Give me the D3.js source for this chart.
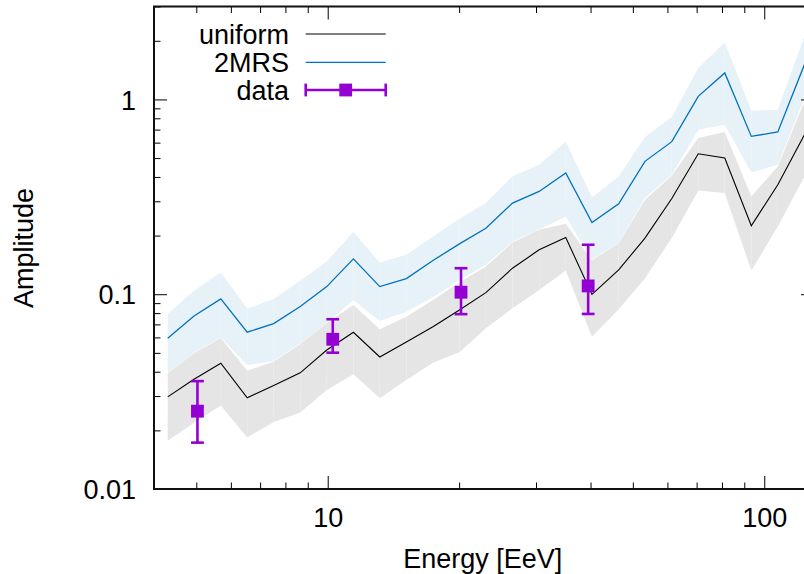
<!DOCTYPE html>
<html>
<head>
<meta charset="utf-8">
<script src="https://cdn.jsdelivr.net/npm/d3@7"></script>
<style>
    html, body { margin: 0; padding: 0; background: #fff; }
    svg { display: block; font-family: "Liberation Sans", Arial, sans-serif; }
</style>
</head>
<body>
<svg id="chart" width="804" height="574"></svg>
<script>
// energies of the model curves [EeV]
const energy = [4.30, 4.94, 5.69, 6.54, 7.52, 8.65, 9.95, 11.45, 13.16, 15.14, 17.42, 20.03,
    23.03, 26.5, 30.5, 35.1, 40.3, 46.4, 53.3, 61.4, 70.6, 81.2, 93.4, 107.4, 123.6];

const uniform = [0.0297, 0.0366, 0.0442, 0.0294, 0.0340, 0.0395, 0.0517, 0.0638, 0.0476, 0.0569,
    0.0681, 0.0830, 0.1019, 0.1360, 0.1690, 0.1954, 0.0998, 0.1333, 0.1941, 0.310, 0.526, 0.500,
    0.2245, 0.365, 0.659];
const uniformLow = [0.0177, 0.0219, 0.0268, 0.0184, 0.0221, 0.0247, 0.0322, 0.0388, 0.0292, 0.0363,
    0.0445, 0.0503, 0.0669, 0.0847, 0.1052, 0.1322, 0.0605, 0.0838, 0.1209, 0.1941, 0.341, 0.331,
    0.1322, 0.2227, 0.402];
const uniformHigh = [0.0393, 0.0497, 0.0596, 0.0405, 0.0450, 0.0555, 0.0709, 0.0881, 0.0661, 0.0767,
    0.0935, 0.1147, 0.1387, 0.1842, 0.2141, 0.2298, 0.1489, 0.1829, 0.3053, 0.4057, 0.634, 0.681,
    0.3176, 0.453, 0.978];

const mrs = [0.0594, 0.0773, 0.0946, 0.0638, 0.0706, 0.0864, 0.1094, 0.1519, 0.1094, 0.1203,
    0.1489, 0.1814, 0.2179, 0.2938, 0.337, 0.419, 0.2334, 0.2913, 0.481, 0.607, 1.037, 1.368,
    0.646, 0.681, 1.51];
const mrsLow = [0.0395, 0.0500, 0.0601, 0.0433, 0.0454, 0.0560, 0.0712, 0.0935, 0.0729, 0.0814,
    0.0965, 0.1184, 0.1415, 0.1864, 0.2150, 0.2506, 0.1501, 0.1840, 0.3116, 0.410, 0.699, 0.742,
    0.422, 0.462, 1.018];
const mrsHigh = [0.0792, 0.1043, 0.1291, 0.0843, 0.0946, 0.1171, 0.1471, 0.2084, 0.1454, 0.1593,
    0.1978, 0.2438, 0.2938, 0.402, 0.462, 0.609, 0.314, 0.402, 0.641, 0.813, 1.452, 1.966,
    0.876, 0.886, 2.11];

// measured amplitudes
const dataEnergy = [5.03, 10.27, 20.2, 39.5];
const dataAmp = [0.0251, 0.0587, 0.1024, 0.1103];
const dataLow = [0.0173, 0.0501, 0.0790, 0.0792];
const dataHigh = [0.0358, 0.0744, 0.136, 0.1793];

const xMajor = [10, 100];
const yMajor = [0.01, 0.1, 1];
const yLabels = ['0.01', '0.1', '1'];

const plotLeft = 154, plotRight = 814, plotTop = 6.5, plotBottom = 489;
const fontSize = 27;

const svg = d3.select('#chart');

const x = d3.scaleLog().domain([4, 130]).range([plotLeft, plotRight]);
const y = d3.scaleLog().domain([0.01, 3]).range([plotBottom, plotTop]);

svg.append('defs').append('clipPath').attr('id', 'plot-clip')
    .append('rect')
    .attr('x', plotLeft).attr('y', plotTop)
    .attr('width', plotRight - plotLeft).attr('height', plotBottom - plotTop);

const plot = svg.append('g').attr('clip-path', 'url(#plot-clip)');

// bands are drawn segment by segment, like the original polygons
function drawBand(lo, hi, fill) {
    const area = d3.area()
        .x(i => x(energy[i]))
        .y0(i => y(lo[i]))
        .y1(i => y(hi[i]));
    const segs = d3.range(energy.length - 1).map(i => [i, i + 1]);
    plot.append('g')
        .selectAll('path')
        .data(segs)
        .join('path')
        .attr('d', area)
        .attr('fill', fill);
}

drawBand(uniformLow, uniformHigh, '#e5e5e5');
drawBand(mrsLow, mrsHigh, '#e6f1f8');

const line = values => d3.line()
    .x((d, i) => x(energy[i]))
    .y(d => y(d))(values);

plot.append('path')
    .attr('d', line(uniform))
    .attr('fill', 'none')
    .attr('stroke', '#000')
    .attr('stroke-width', 1.1);

plot.append('path')
    .attr('d', line(mrs))
    .attr('fill', 'none')
    .attr('stroke', '#0072bd')
    .attr('stroke-width', 1.3);

// data points with error bars
const purple = '#9400d3';
const cap = 6.4;
const pts = plot.append('g')
    .selectAll('g')
    .data(d3.range(dataEnergy.length))
    .join('g')
    .attr('stroke', purple)
    .attr('stroke-width', 2.6);

pts.append('line')
    .attr('x1', i => x(dataEnergy[i])).attr('x2', i => x(dataEnergy[i]))
    .attr('y1', i => y(dataLow[i])).attr('y2', i => y(dataHigh[i]));
pts.append('line')
    .attr('x1', i => x(dataEnergy[i]) - cap).attr('x2', i => x(dataEnergy[i]) + cap)
    .attr('y1', i => y(dataLow[i])).attr('y2', i => y(dataLow[i]));
pts.append('line')
    .attr('x1', i => x(dataEnergy[i]) - cap).attr('x2', i => x(dataEnergy[i]) + cap)
    .attr('y1', i => y(dataHigh[i])).attr('y2', i => y(dataHigh[i]));
pts.append('rect')
    .attr('x', i => x(dataEnergy[i]) - cap).attr('y', i => y(dataAmp[i]) - cap)
    .attr('width', 2 * cap).attr('height', 2 * cap)
    .attr('fill', purple).attr('stroke', 'none');

// axes: ticks point inward, mirrored on top and right
const xMinor = x.ticks().filter(v => !xMajor.includes(v));
const yMinor = y.ticks().filter(v => !yMajor.some(m => Math.abs(m - v) < 1e-9));

function styleAxis(g) {
    g.select('.domain').remove();
    g.selectAll('.tick line').attr('stroke', '#000').attr('stroke-width', 1);
    g.selectAll('text')
        .attr('fill', '#000')
        .attr('font-size', fontSize)
        .attr('font-family', '"Liberation Sans", Arial, sans-serif');
}

svg.append('g').attr('transform', `translate(0,${plotBottom})`)
    .call(d3.axisBottom(x).tickValues(xMajor).tickSize(-13).tickPadding(19).tickFormat(d3.format('d')))
    .call(styleAxis);
svg.append('g').attr('transform', `translate(0,${plotBottom})`)
    .call(d3.axisBottom(x).tickValues(xMinor).tickSize(-6.5).tickFormat(''))
    .call(styleAxis);
svg.append('g').attr('transform', `translate(0,${plotTop})`)
    .call(d3.axisTop(x).tickValues(xMajor).tickSize(-13).tickFormat(''))
    .call(styleAxis);
svg.append('g').attr('transform', `translate(0,${plotTop})`)
    .call(d3.axisTop(x).tickValues(xMinor).tickSize(-6.5).tickFormat(''))
    .call(styleAxis);

svg.append('g').attr('transform', `translate(${plotLeft},0)`)
    .call(d3.axisLeft(y).tickValues(yMajor).tickSize(-13).tickPadding(18)
        .tickFormat((d, i) => yLabels[i]))
    .call(styleAxis)
    .call(g => g.selectAll('text').attr('dy', '0.36em'));
svg.append('g').attr('transform', `translate(${plotLeft},0)`)
    .call(d3.axisLeft(y).tickValues(yMinor).tickSize(-6.5).tickFormat(''))
    .call(styleAxis);
svg.append('g').attr('transform', `translate(${plotRight},0)`)
    .call(d3.axisRight(y).tickValues(yMajor).tickSize(-13).tickFormat(''))
    .call(styleAxis);
svg.append('g').attr('transform', `translate(${plotRight},0)`)
    .call(d3.axisRight(y).tickValues(yMinor).tickSize(-6.5).tickFormat(''))
    .call(styleAxis);

svg.append('rect')
    .attr('x', plotLeft).attr('y', plotTop)
    .attr('width', plotRight - plotLeft).attr('height', plotBottom - plotTop)
    .attr('fill', 'none')
    .attr('stroke', '#111')
    .attr('stroke-width', 2);

// axis titles
svg.append('text')
    .attr('x', 482.7).attr('y', 568)
    .attr('text-anchor', 'middle')
    .attr('font-size', fontSize)
    .text('Energy [EeV]');

svg.append('text')
    .attr('transform', 'translate(33,248) rotate(-90)')
    .attr('text-anchor', 'middle')
    .attr('font-size', fontSize)
    .text('Amplitude');

// legend
const legend = svg.append('g');
const keyX0 = 305.7, keyX1 = 385.7, textX = 289;
const entries = [
    { name: 'uniform', y: 34, color: '#000', width: 1.1 },
    { name: '2MRS', y: 62.3, color: '#0072bd', width: 1.3 },
    { name: 'data', y: 90, color: purple, width: 2.6 }
];

entries.forEach(e => {
    legend.append('text')
        .attr('x', textX).attr('y', e.y + 9.7)
        .attr('text-anchor', 'end')
        .attr('font-size', fontSize)
        .text(e.name);
    legend.append('line')
        .attr('x1', keyX0).attr('x2', keyX1)
        .attr('y1', e.y).attr('y2', e.y)
        .attr('stroke', e.color).attr('stroke-width', e.width);
});

const dataKey = entries[2];
[keyX0, keyX1].forEach(cx => {
    legend.append('line')
        .attr('x1', cx).attr('x2', cx)
        .attr('y1', dataKey.y - cap).attr('y2', dataKey.y + cap)
        .attr('stroke', purple).attr('stroke-width', 2.6);
});
legend.append('rect')
    .attr('x', (keyX0 + keyX1) / 2 - cap).attr('y', dataKey.y - cap)
    .attr('width', 2 * cap).attr('height', 2 * cap)
    .attr('fill', purple);
</script>
</body>
</html>
